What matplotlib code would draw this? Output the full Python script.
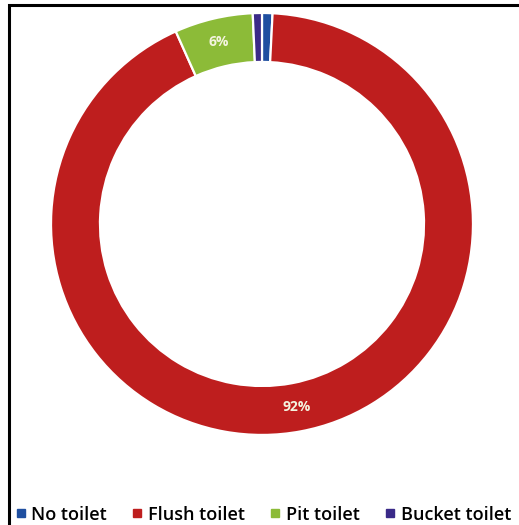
import numpy as np
import matplotlib.pyplot as plt
from matplotlib.lines import Line2D

# toilet types, clockwise from the top
labels = ["No toilet", "Flush toilet", "Pit toilet", "Bucket toilet"]
shares = [0.8, 92.5, 6.0, 0.7]
colors = ["#1F4FA0", "#BE1E1E", "#8CBB38", "#3A2A88"]
shown = ["", "92%", "6%", ""]

plt.rcParams["font.family"] = ["Open Sans", "DejaVu Sans"]

fig = plt.figure(figsize=(5.19, 5.25), dpi=100)
ax = fig.add_axes([0.0983, 0.1714, 0.813, 0.804])

ring = 0.232
wedges, _ = ax.pie(shares, colors=colors, startangle=90, counterclock=False,
                   radius=1.0,
                   wedgeprops=dict(width=ring, edgecolor="white", linewidth=1.6))

# percentage labels in the middle of the ring
for w, txt in zip(wedges, shown):
    if txt:
        mid = np.deg2rad((w.theta1 + w.theta2) / 2)
        r = 1 - ring / 2
        ax.text(r * np.cos(mid), r * np.sin(mid), txt, ha="center", va="center",
                color="#F4F4E0", fontsize=10, fontweight="bold")
ax.set_xlim(-1, 1)
ax.set_ylim(-1, 1)
ax.set_aspect("equal")

handles = [Line2D([], [], marker="s", linestyle="none", markersize=5.5,
                  markerfacecolor=c, markeredgecolor=c) for c in colors]
fig.legend(handles, labels, loc="center", bbox_to_anchor=(0.508, 0.02),
           ncol=4, frameon=False, handlelength=0.5,
           handletextpad=0.35, columnspacing=1.42,
           prop=dict(weight="semibold", size=13))

# only top and left edges of the frame are visible
fig.add_artist(Line2D([0.017, 0.017, 1.0], [0.0, 0.99, 0.99],
                      transform=fig.transFigure, color="black", linewidth=2.2,
                      solid_joinstyle="miter"))

fig.savefig("out.png", dpi=100)
